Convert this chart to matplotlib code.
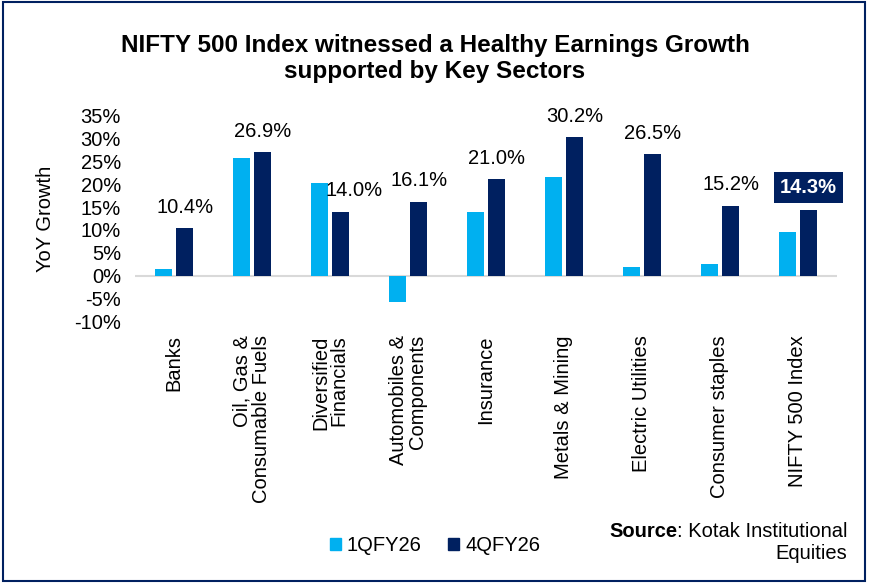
import numpy as np
import matplotlib.pyplot as plt
from matplotlib.patches import Rectangle, Patch

plt.rcParams['font.family'] = ['Liberation Sans', 'DejaVu Sans']

# Chart data
sectors = ['Banks', 'Oil, Gas &\nConsumable Fuels', 'Diversified\nFinancials',
           'Automobiles &\nComponents', 'Insurance', 'Metals & Mining',
           'Electric Utilities', 'Consumer staples', 'NIFTY 500 Index']
q1_fy26 = [1.5, 25.6, 20.3, -5.6, 14.0, 21.5, 2.0, 2.6, 9.5]
q4_fy26 = [10.4, 26.9, 14.0, 16.1, 21.0, 30.2, 26.5, 15.2, 14.3]
yticks = [-10, -5, 0, 5, 10, 15, 20, 25, 30, 35]

light_blue = '#00B0F0'
navy = '#002060'
fs = 14.5

fig = plt.figure(figsize=(8.7, 5.85), dpi=100)
ax = fig.add_axes([0.155, 0.45, 0.807, 0.353])

x = np.arange(len(sectors))
w = 0.22
gap = 0.028
ax.bar(x - w / 2 - gap, q1_fy26, width=w, color=light_blue, label='1QFY26', zorder=3)
ax.bar(x + w / 2 + gap, q4_fy26, width=w, color=navy, label='4QFY26', zorder=3)

# data labels on 4QFY26 bars (last one highlighted)
for i, v in enumerate(q4_fy26):
    xi = x[i] + w / 2 + gap
    if i == len(sectors) - 1:
        ax.text(xi, v + 4.9, f'{v:.1f}%', ha='center', va='center', fontsize=fs,
                fontweight='bold', color='white',
                bbox=dict(boxstyle='square,pad=0.3', fc=navy, ec='none'))
    else:
        dx = 0.17 if i == 2 else 0
        ax.text(xi + dx, v + 4.6, f'{v:.1f}%', ha='center', va='center',
                fontsize=fs, color='black')

ax.set_xlim(-0.5, len(sectors) - 0.5)
ax.set_ylim(-10, 35)
ax.set_yticks(yticks)
ax.set_yticklabels([f'{t}%' for t in yticks], fontsize=fs)
ax.set_xticks([])
ax.tick_params(axis='y', length=0, pad=10)
for s in ['top', 'right', 'bottom', 'left']:
    ax.spines[s].set_visible(False)
ax.axhline(0, color='#d9d9d9', lw=1.5, zorder=2)
ax.set_ylabel('YoY Growth', fontsize=fs, labelpad=14)

# category labels, rotated
for i, name in enumerate(sectors):
    ax.text(x[i], -0.065, name, transform=ax.get_xaxis_transform(),
            rotation=90, ha='center', va='top', multialignment='right', fontsize=fs,
            linespacing=1.0)

fig.text(0.5, 0.9, 'NIFTY 500 Index witnessed a Healthy Earnings Growth\nsupported by Key Sectors',
         ha='center', va='center', fontsize=17.5, fontweight='bold', linespacing=1.15)

handles = [Patch(color=light_blue), Patch(color=navy)]
fig.legend(handles, ['1QFY26', '4QFY26'], loc='center', bbox_to_anchor=(0.5, 0.068),
           ncol=2, frameon=False, fontsize=fs, handlelength=0.55, handleheight=0.55,
           handletextpad=0.3, columnspacing=1.3)

# source note, "Source" in bold
src = fig.text(0.974, 0.092, ': Kotak Institutional', ha='right', va='center', fontsize=fs)
fig.text(0, 0, 'Source', fontsize=fs, fontweight='bold', ha='right', va='bottom',
         transform=src.get_transform())
ax.annotate('Source', xy=(0.002, 0), xycoords=src, ha='right', va='bottom',
            fontsize=fs, fontweight='bold', annotation_clip=False)
fig.texts[-1].remove()
fig.text(0.974, 0.054, 'Equities', ha='right', va='center', fontsize=fs)

# outer border
fig.patches.append(Rectangle((0.003, 0.006), 0.991, 0.99, transform=fig.transFigure,
                             fill=False, ec=navy, lw=1.5))

fig.savefig('out.png', dpi=100)
